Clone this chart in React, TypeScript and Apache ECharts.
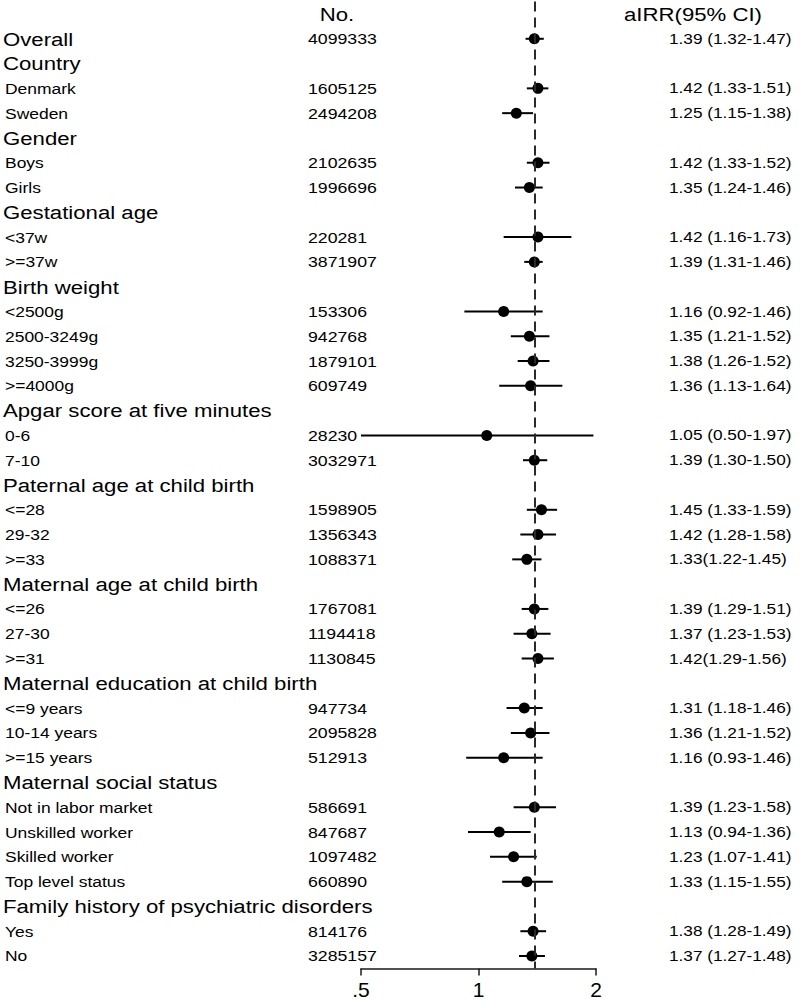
import React, { useEffect, useRef } from 'react';
import * as echarts from 'echarts';

// ---------- data ----------
const labels: string[] = [
  'Overall', 'Country', 'Denmark', 'Sweden', 'Gender', 'Boys', 'Girls',
  'Gestational age', '<37w', '>=37w', 'Birth weight', '<2500g', '2500-3249g',
  '3250-3999g', '>=4000g', 'Apgar score at five minutes', '0-6', '7-10',
  'Paternal age at child birth', '<=28', '29-32', '>=33',
  'Maternal age at child birth', '<=26', '27-30', '>=31',
  'Maternal education at child birth', '<=9 years', '10-14 years', '>=15 years',
  'Maternal social status', 'Not in labor market', 'Unskilled worker',
  'Skilled worker', 'Top level status', 'Family history of psychiatric disorders',
  'Yes', 'No',
];
const isGroupHeader: boolean[] = [
  true, true, false, false, true, false, false,
  true, false, false, true, false, false,
  false, false, true, false, false,
  true, false, false, false,
  true, false, false, false,
  true, false, false, false,
  true, false, false,
  false, false, true,
  false, false,
];
const counts: (string | null)[] = [
  '4099333', null, '1605125', '2494208', null, '2102635', '1996696',
  null, '220281', '3871907', null, '153306', '942768',
  '1879101', '609749', null, '28230', '3032971',
  null, '1598905', '1356343', '1088371',
  null, '1767081', '1194418', '1130845',
  null, '947734', '2095828', '512913',
  null, '586691', '847687',
  '1097482', '660890', null,
  '814176', '3285157',
];
const estimates: (number | null)[] = [
  1.39, null, 1.42, 1.25, null, 1.42, 1.35,
  null, 1.42, 1.39, null, 1.16, 1.35,
  1.38, 1.36, null, 1.05, 1.39,
  null, 1.45, 1.42, 1.33,
  null, 1.39, 1.37, 1.42,
  null, 1.31, 1.36, 1.16,
  null, 1.39, 1.13,
  1.23, 1.33, null,
  1.38, 1.37,
];
const lowers: (number | null)[] = [
  1.32, null, 1.33, 1.15, null, 1.33, 1.24,
  null, 1.16, 1.31, null, 0.92, 1.21,
  1.26, 1.13, null, 0.5, 1.30,
  null, 1.33, 1.28, 1.22,
  null, 1.29, 1.23, 1.29,
  null, 1.18, 1.21, 0.93,
  null, 1.23, 0.94,
  1.07, 1.15, null,
  1.28, 1.27,
];
const uppers: (number | null)[] = [
  1.47, null, 1.51, 1.38, null, 1.52, 1.46,
  null, 1.73, 1.46, null, 1.46, 1.52,
  1.52, 1.64, null, 1.97, 1.50,
  null, 1.59, 1.58, 1.45,
  null, 1.51, 1.53, 1.56,
  null, 1.46, 1.52, 1.46,
  null, 1.58, 1.36,
  1.41, 1.55, null,
  1.49, 1.48,
];
const ciTexts: (string | null)[] = [
  '1.39 (1.32-1.47)', null, '1.42 (1.33-1.51)', '1.25 (1.15-1.38)', null, '1.42 (1.33-1.52)', '1.35 (1.24-1.46)',
  null, '1.42 (1.16-1.73)', '1.39 (1.31-1.46)', null, '1.16 (0.92-1.46)', '1.35 (1.21-1.52)',
  '1.38 (1.26-1.52)', '1.36 (1.13-1.64)', null, '1.05 (0.50-1.97)', '1.39 (1.30-1.50)',
  null, '1.45 (1.33-1.59)', '1.42 (1.28-1.58)', '1.33(1.22-1.45)',
  null, '1.39 (1.29-1.51)', '1.37 (1.23-1.53)', '1.42(1.29-1.56)',
  null, '1.31 (1.18-1.46)', '1.36 (1.21-1.52)', '1.16 (0.93-1.46)',
  null, '1.39 (1.23-1.58)', '1.13 (0.94-1.36)',
  '1.23 (1.07-1.41)', '1.33 (1.15-1.55)', null,
  '1.38 (1.28-1.49)', '1.37 (1.27-1.48)',
];
const columnHeaders: string[] = ['No.', 'aIRR(95% CI)'];
const tickValues: number[] = [0.5, 1, 2];
const tickLabels: string[] = ['.5', '1', '2'];
const referenceValue = 1.39;

// ---------- component ----------
const FONT = '"Liberation Sans", Arial, Helvetica, sans-serif';
const SX = 1.18;

export default function App() {
  const ref = useRef<HTMLDivElement>(null);

  useEffect(() => {
    if (!ref.current) return;
    const chart = echarts.init(ref.current, undefined, { renderer: 'svg' });

    // row 0 = column headers, rows 1..N = data rows
    const categories = ['', ...labels];

    const pointData: any[] = [];
    const ciData: any[] = [];
    const textData: any[] = [[1, 0]];
    labels.forEach((_, i) => {
      const row = i + 1;
      textData.push([1, row]);
      if (estimates[i] != null) pointData.push([estimates[i], row]);
      if (lowers[i] != null && uppers[i] != null) ciData.push([lowers[i], uppers[i], row]);
    });

    const option: any = {
      animation: false,
      grid: { left: 361, right: 204, top: 1.6, height: 966.8, containLabel: false },
      xAxis: {
        type: 'log',
        logBase: 2,
        min: 0.5,
        max: 2,
        axisLine: { show: true, lineStyle: { color: '#1a1a1a', width: 1.5 } },
        axisTick: { show: true, length: 7, lineStyle: { color: '#1a1a1a', width: 1.5 } },
        axisLabel: {
          fontSize: 21,
          color: '#000',
          fontFamily: FONT,
          margin: 11,
          formatter: (v: number) => {
            const k = tickValues.findIndex((t) => Math.abs(t - v) < 1e-6);
            return k >= 0 ? tickLabels[k] : '';
          },
        },
        splitLine: { show: false },
      },
      yAxis: {
        type: 'category',
        data: categories,
        inverse: true,
        show: false,
      },
      series: [
        {
          type: 'custom',
          name: 'ci',
          silent: true,
          renderItem: (params: any, api: any) => {
            const lo = api.value(0);
            const hi = api.value(1);
            const row = api.value(2);
            const p1 = api.coord([lo, row]);
            const p2 = api.coord([hi, row]);
            return {
              type: 'line',
              shape: { x1: p1[0], y1: p1[1], x2: p2[0], y2: p2[1] },
              style: { stroke: '#000', lineWidth: 2 },
            };
          },
          encode: { x: [0, 1], y: 2 },
          data: ciData,
          z: 2,
        },
        {
          type: 'scatter',
          name: 'aIRR',
          silent: true,
          symbol: 'circle',
          symbolSize: 11,
          itemStyle: { color: '#000', opacity: 1 },
          data: pointData,
          z: 3,
          markLine: {
            silent: true,
            symbol: ['none', 'none'],
            label: { show: false },
            lineStyle: { color: '#2a2a2a', width: 2, type: [10, 6] },
            data: [{ xAxis: referenceValue }],
          },
        },
        {
          type: 'custom',
          name: 'texts',
          silent: true,
          renderItem: (params: any, api: any) => {
            const row = api.value(1);
            const y = api.coord([1, row])[1];
            const cs = params.coordSys;
            const gridRight = cs.x + cs.width;
            const children: any[] = [];
            const txt = (text: string, x: number, size: number, align: string) => ({
              type: 'text',
              x,
              y,
              scaleX: SX,
              style: {
                text,
                fontSize: size,
                fontFamily: FONT,
                fill: '#000',
                align,
                verticalAlign: 'middle',
              },
            });
            if (row === 0) {
              children.push(txt(columnHeaders[0], cs.x - 24, 18.8, 'center'));
              children.push(txt(columnHeaders[1], gridRight + 97, 18.8, 'center'));
            } else {
              const i = row - 1;
              const head = isGroupHeader[i];
              children.push(txt(labels[i], head ? 3 : 5, head ? 18.8 : 14.8, 'left'));
              if (counts[i]) children.push(txt(counts[i] as string, cs.x - 53, 15, 'left'));
              if (ciTexts[i]) children.push(txt(ciTexts[i] as string, gridRight + 73, 14.6, 'left'));
            }
            return { type: 'group', children };
          },
          encode: { x: 0, y: 1 },
          data: textData,
          z: 5,
        },
      ],
    };

    chart.setOption(option);
    return () => chart.dispose();
  }, []);

  return (
    <div
      ref={ref}
      style={{ position: 'absolute', left: 0, top: 0, width: 800, height: 1002, background: '#fff' }}
    />
  );
}
